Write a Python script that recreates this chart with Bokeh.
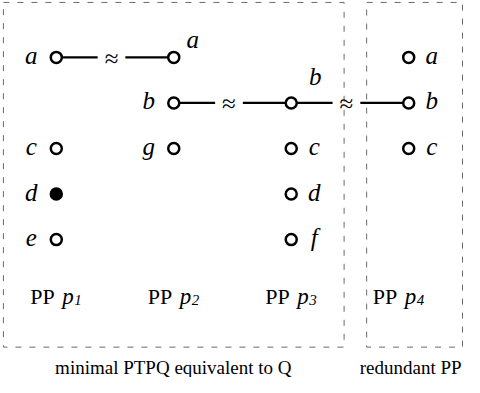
from bokeh.plotting import figure
from bokeh.models import Range1d, ColumnDataSource
from bokeh.core.properties import value
from bokeh.embed import file_html
from bokeh.resources import INLINE

# ---- data ----
node_col = [0, 0, 0, 0, 1, 1, 1, 2, 2, 2, 2, 3, 3, 3]
node_row = [0, 2, 3, 4, 0, 1, 2, 1, 2, 3, 4, 0, 1, 2]
node_label = ["a", "c", "d", "e", "a", "b", "g", "b", "c", "d", "f", "a", "b", "c"]
node_filled = [False, False, True, False, False, False, False, False, False, False, False, False, False, False]
# label placement: L = left, R = right, UR = upper right, U = above right
node_place = ["L", "L", "L", "L", "UR", "L", "L", "U", "R", "R", "R", "R", "R", "R"]

edge_from = [(0, 0), (1, 1), (2, 1)]
edge_to = [(1, 0), (2, 1), (3, 1)]

pp_cols = [0, 1, 2, 3]
pp_subs = ["1", "2", "3", "4"]
pp_shift = [-26, -26, -26, -36]

box_left = [-0.45, 2.642]
box_right = [2.45, 3.458]
captions = ["minimal PTPQ equivalent to Q", "redundant PP"]
caption_x = [-0.01, 2.583]

# ---- figure ----
W, H = 464, 377
p = figure(width=W, height=H, output_backend="svg", toolbar_location=None,
           x_range=Range1d(-0.475, 3.475), y_range=Range1d(7.0265, -1.2487),
           min_border=0, outline_line_color=None)
p.xaxis.visible = False
p.yaxis.visible = False
p.grid.visible = False
p.background_fill_color = "white"
p.border_fill_color = "white"

SERIF = value("Liberation Serif")

# boxes
box_top, box_bottom = -1.206, 6.36
for l, r in zip(box_left, box_right):
    p.line([l, r, r, l, l], [box_top, box_top, box_bottom, box_bottom, box_top],
           line_color="#6a6a6a", line_width=1, line_dash="6 8")

# edges with approx sign
gap = 0.118
for (c0, r0), (c1, r1) in zip(edge_from, edge_to):
    mid = (c0 + c1) / 2 - 0.03
    p.line([c0, mid - gap], [r0, r1], line_color="black", line_width=2.2)
    p.line([mid + gap, c1], [r0, r1], line_color="black", line_width=2.2)
    p.text(x=[mid], y=[r0], text=["\u2248"], text_font=SERIF, text_font_size="25px",
           text_align="center", text_baseline="middle", y_offset=1, text_color="black")

# nodes
src = ColumnDataSource(dict(
    x=node_col, y=node_row, lab=node_label,
    fill=["black" if f else "white" for f in node_filled],
))
p.scatter("x", "y", source=src, size=11, line_width=2.5, line_color="black", fill_color="fill")

offsets = {"L": (-25, 0), "R": (23, 0), "UR": (19, -16), "U": (24, -24)}
for place, (dx, dy) in offsets.items():
    idx = [i for i, pl in enumerate(node_place) if pl == place]
    p.text(x=[node_col[i] for i in idx], y=[node_row[i] for i in idx],
           text=[node_label[i] for i in idx], text_font=SERIF, text_font_style="italic",
           text_font_size="25px", text_align="center", text_baseline="middle",
           x_offset=dx, y_offset=dy - 2, text_color="black")

# PP labels
pp_y = 5.249
p.text(x=pp_cols, y=[pp_y] * 4, text=["PP"] * 4, text_font=SERIF, text_font_size="22px",
       text_align="left", text_baseline="alphabetic", x_offset=pp_shift, text_color="black")
p.text(x=pp_cols, y=[pp_y] * 4, text=["p"] * 4, text_font=SERIF, text_font_style="italic",
       text_font_size="23px", text_align="left", text_baseline="alphabetic",
       x_offset=[s + 32 for s in pp_shift], text_color="black")
p.text(x=pp_cols, y=[pp_y] * 4, text=pp_subs, text_font=SERIF, text_font_style="italic",
       text_font_size="15px", text_align="left", text_baseline="alphabetic",
       x_offset=[s + 44 for s in pp_shift], y_offset=3, text_color="black")

# captions
cap_y = 6.80
p.text(x=caption_x, y=[cap_y, cap_y], text=captions, text_font=SERIF,
       text_font_size="19px", text_align="left", text_baseline="alphabetic",
       text_color="black")

open("out.html", "w").write(file_html(p, INLINE))
